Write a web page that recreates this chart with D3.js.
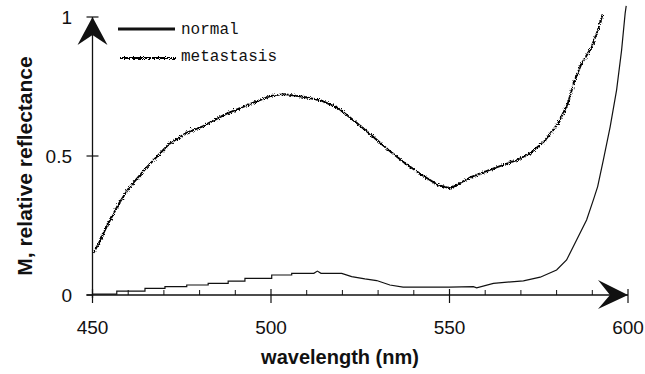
<!DOCTYPE html>
<html>
<head>
<meta charset="utf-8">
<script src="https://cdn.jsdelivr.net/npm/d3@7"></script>
<style>
  html, body { margin: 0; padding: 0; background: #fff; }
  svg { display: block; }
</style>
</head>
<body>
<div id="chart"></div>
<script>
// metastasis spectrum
var metaNm = [450, 451.5, 453.5, 457, 460, 464.7, 471, 476, 480.6, 487, 494.6, 499.7, 503.4, 509, 513.7,
              518.4, 523, 527.7, 532.4, 537, 541.7, 546.4, 550, 555.7, 562.3, 568.8, 572.5, 576.3,
              580, 582.8, 584.7, 586.6, 589.4, 591.2, 592.6];
var metaVal = [0.155, 0.19, 0.245, 0.33, 0.39, 0.46, 0.545, 0.587, 0.61, 0.654, 0.695, 0.72, 0.726, 0.716, 0.704,
               0.677, 0.63, 0.58, 0.528, 0.48, 0.438, 0.40, 0.387, 0.428, 0.46, 0.49, 0.515, 0.557,
               0.618, 0.69, 0.773, 0.833, 0.893, 0.953, 1.013];

// normal spectrum (stepped at short wavelengths)
var normNm = [450, 456.8, 456.8, 464.7, 464.7, 470.3, 470.3, 476.4, 476.4, 482.4, 482.4, 488, 488, 492.7,
              492.7, 500.2, 500.2, 505.8, 505.8, 512, 513, 514, 519.8, 522.6, 526.3, 529.6, 533.3, 537,
              550, 556.7, 557.6, 562.3, 570.7, 575.4, 580, 582.8, 585.6, 588.4, 590.3, 591.5, 593.1,
              595, 596.8, 598.2, 599.2, 599.5];
var normVal = [0.003, 0.003, 0.014, 0.014, 0.024, 0.024, 0.03, 0.03, 0.036, 0.036, 0.042, 0.042, 0.05, 0.05,
               0.06, 0.06, 0.072, 0.072, 0.078, 0.078, 0.086, 0.078, 0.078, 0.066, 0.058, 0.052, 0.036, 0.028,
               0.028, 0.03, 0.026, 0.042, 0.051, 0.064, 0.09, 0.126, 0.198, 0.27, 0.342, 0.39, 0.486,
               0.605, 0.737, 0.88, 1.013, 1.04];

var xMajor = [450, 500, 550, 600],
    xMinor = [460, 470, 480, 490, 510, 520, 530, 540, 560, 570, 580, 590],
    yTicks = [0, 0.5, 1],
    yTickLabels = ["0", "0.5", "1"];

var seriesNames = ["normal", "metastasis"];

var width = 645, height = 374;

var svg = d3.select("#chart").append("svg")
    .attr("width", width)
    .attr("height", height);

// wiggle filter for the noisy metastasis trace
var defs = svg.append("defs");
var filt = defs.append("filter")
    .attr("id", "wiggle")
    .attr("filterUnits", "userSpaceOnUse")
    .attr("x", 0).attr("y", 0)
    .attr("width", width).attr("height", height);
filt.append("feTurbulence")
    .attr("type", "turbulence")
    .attr("baseFrequency", "0.6")
    .attr("numOctaves", 1)
    .attr("seed", 3)
    .attr("result", "noise");
filt.append("feDisplacementMap")
    .attr("in", "SourceGraphic")
    .attr("in2", "noise")
    .attr("scale", 3.2)
    .attr("xChannelSelector", "R")
    .attr("yChannelSelector", "G");

var xScale = d3.scaleLinear().domain([450, 600]).range([92.5, 628]);
var yScale = d3.scaleLinear().domain([0, 1]).range([295, 17]);

var ink = "#111";

// y axis line
svg.append("line")
    .attr("x1", xScale(450)).attr("x2", xScale(450))
    .attr("y1", yScale(1)).attr("y2", yScale(0) + 3)
    .attr("stroke", ink).attr("stroke-width", 1.3);

// x axis line
svg.append("line")
    .attr("x1", xScale(450) - 6).attr("x2", xScale(600))
    .attr("y1", yScale(0)).attr("y2", yScale(0))
    .attr("stroke", ink).attr("stroke-width", 1.3);

// minor x ticks (upward only)
svg.append("g").selectAll("line")
    .data(xMinor)
    .enter()
    .append("line")
        .attr("x1", function(d) { return xScale(d); })
        .attr("x2", function(d) { return xScale(d); })
        .attr("y1", yScale(0) - 5)
        .attr("y2", yScale(0))
        .attr("stroke", ink).attr("stroke-width", 1);

// major x ticks cross the axis
svg.append("g").selectAll("line")
    .data(xMajor)
    .enter()
    .append("line")
        .attr("x1", function(d) { return xScale(d); })
        .attr("x2", function(d) { return xScale(d); })
        .attr("y1", yScale(0) - 6)
        .attr("y2", yScale(0) + 8)
        .attr("stroke", ink).attr("stroke-width", 1.2);

// x tick labels
svg.append("g").selectAll("text")
    .data(xMajor)
    .enter()
    .append("text")
        .attr("x", function(d) { return xScale(d); })
        .attr("y", 334)
        .attr("text-anchor", "middle")
        .style("font-family", "'Liberation Sans', Arial, sans-serif")
        .style("font-size", "19px")
        .attr("fill", ink)
        .text(function(d) { return d; });

// y ticks
svg.append("g").selectAll("line")
    .data(yTicks)
    .enter()
    .append("line")
        .attr("x1", xScale(450) - 6)
        .attr("x2", function(d) { return d === 0 ? xScale(450) : xScale(450) + 6; })
        .attr("y1", function(d) { return yScale(d); })
        .attr("y2", function(d) { return yScale(d); })
        .attr("stroke", ink).attr("stroke-width", 1.2);

svg.append("g").selectAll("text")
    .data(yTicks)
    .enter()
    .append("text")
        .attr("x", 72)
        .attr("y", function(d) { return yScale(d) + 7; })
        .attr("text-anchor", "end")
        .style("font-family", "'Liberation Sans', Arial, sans-serif")
        .style("font-size", "19px")
        .attr("fill", ink)
        .text(function(d, i) { return yTickLabels[i]; });

// arrowheads
svg.append("path")
    .attr("transform", "translate(" + xScale(450) + "," + yScale(1) + ")")
    .attr("d", "M0,0 L-15,28 L0,18 L15,28 Z")
    .attr("fill", ink);
svg.append("path")
    .attr("transform", "translate(" + xScale(600) + "," + yScale(0) + ")")
    .attr("d", "M0,0 L-30,-15 L-18,0 L-30,14 Z")
    .attr("fill", ink);

// axis titles
svg.append("text")
    .attr("transform", "translate(32,166) rotate(-90)")
    .attr("text-anchor", "middle")
    .style("font-family", "'Liberation Sans', Arial, sans-serif")
    .style("font-size", "21px")
    .style("font-weight", "bold")
    .attr("fill", ink)
    .text("M, relative reflectance");

svg.append("text")
    .attr("x", 340)
    .attr("y", 364)
    .attr("text-anchor", "middle")
    .style("font-family", "'Liberation Sans', Arial, sans-serif")
    .style("font-size", "20px")
    .style("font-weight", "bold")
    .attr("fill", ink)
    .text("wavelength (nm)");

// lines
var line = d3.line()
    .x(function(d) { return xScale(d[0]); })
    .y(function(d) { return yScale(d[1]); });

var normData = normNm.map(function(d, i) { return [d, normVal[i]]; }),
    metaData = metaNm.map(function(d, i) { return [d, metaVal[i]]; });

svg.append("path")
    .datum(normData)
    .attr("d", line)
    .attr("fill", "none")
    .attr("stroke", ink)
    .attr("stroke-width", 1.2);

svg.append("g")
    .attr("filter", "url(#wiggle)")
    .append("path")
    .datum(metaData)
    .attr("d", line)
    .attr("fill", "none")
    .attr("stroke", "#000")
    .attr("stroke-width", 1.9);

// legend
var legend = svg.append("g");
legend.append("line")
    .attr("x1", 118).attr("x2", 175)
    .attr("y1", 29).attr("y2", 29)
    .attr("stroke", ink).attr("stroke-width", 2.8);
legend.append("g")
    .attr("filter", "url(#wiggle)")
    .append("line")
    .attr("x1", 118).attr("x2", 175)
    .attr("y1", 57).attr("y2", 57)
    .attr("stroke", "#000").attr("stroke-width", 1.8);
legend.selectAll("text")
    .data(seriesNames)
    .enter()
    .append("text")
        .attr("x", 181)
        .attr("y", function(d, i) { return 34 + i * 27; })
        .style("font-family", "'Liberation Mono', 'Courier New', monospace")
        .style("font-size", "16px")
        .attr("fill", ink)
        .text(function(d) { return d; });
</script>
</body>
</html>
